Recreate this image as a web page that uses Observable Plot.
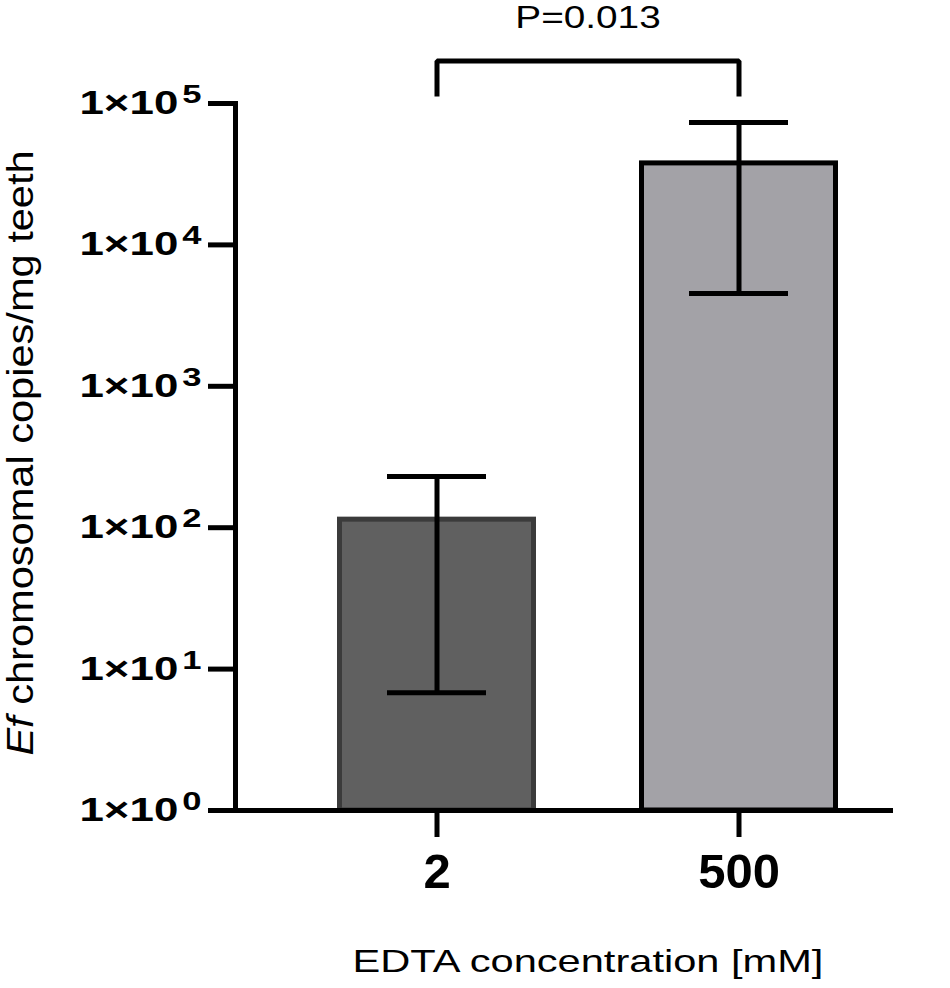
<!DOCTYPE html>
<html>
<head>
<meta charset="utf-8">
<script src="https://cdn.jsdelivr.net/npm/d3@7"></script>
<script src="https://cdn.jsdelivr.net/npm/@observablehq/plot@0.6"></script>
<style>
  body { margin: 0; background: #fff; }
  svg { font-family: "Liberation Sans", Arial, sans-serif; }
</style>
</head>
<body>
<div id="chart"></div>
<script>
// ---- data ----
const concentrations = ["2", "500"];
const means = [114, 37700];
const errLow = [6.8, 4530];
const errHigh = [230, 73400];
const barFills = ["#606060", "#a3a2a7"];
const barStrokes = ["#3b3b3b", "#000000"];
const yTicks = [1, 10, 100, 1000, 10000, 100000];
const pLabel = "P=0.013";
const bracketLegY = 1.12e5;
const bracketTopY = 2.0e5;
const pLabelY = 4.0e5;
const xTitle = "EDTA concentration [mM]";
const yTitleItalic = "Ef";
const yTitleRest = " chromosomal copies/mg teeth";

const data = concentrations.map((c, i) => ({
  conc: c, mean: means[i], lo: errLow[i], hi: errHigh[i], fill: barFills[i], stroke: barStrokes[i]
}));
const bracket = [
  {conc: concentrations[0], y: bracketLegY},
  {conc: concentrations[0], y: bracketTopY},
  {conc: concentrations[1], y: bracketTopY},
  {conc: concentrations[1], y: bracketLegY}
];

// ---- layout ----
const W = 950, H = 988, mL = 235, mR = 60, mT = 103, mB = 178;
const xRange = [285.5, 889.5], padIn = 0.34, padOut = 0.17;
const step = (xRange[1] - xRange[0]) / (concentrations.length - padIn + 2 * padOut);
const midDx = step / 2;

const plot = Plot.plot({
  width: W, height: H,
  marginLeft: mL, marginRight: mR, marginTop: mT, marginBottom: mB,
  style: {fontFamily: "'Liberation Sans', Arial, sans-serif", background: "#ffffff", color: "#000"},
  x: {type: "band", domain: concentrations, range: xRange, paddingInner: padIn, paddingOuter: padOut, label: null},
  y: {type: "log", domain: [1, 1e5], label: null},
  color: {type: "identity"},
  marks: [
    Plot.barY(data, {x: "conc", y1: 1, y2: "mean", fill: "fill", stroke: "stroke", strokeWidth: 5, insetLeft: 2.5, insetRight: 2.5}),
    Plot.ruleX(data, {x: "conc", y1: "lo", y2: "hi", stroke: "#000", strokeWidth: 5}),
    Plot.tickY(data, {x: "conc", y: "lo", stroke: "#000", strokeWidth: 5, insetLeft: 50, insetRight: 50}),
    Plot.tickY(data, {x: "conc", y: "hi", stroke: "#000", strokeWidth: 5, insetLeft: 50, insetRight: 50}),
    Plot.frame({anchor: "left", stroke: "#000", strokeWidth: 5}),
    Plot.frame({anchor: "bottom", stroke: "#000", strokeWidth: 5}),
    Plot.axisY({
      ticks: yTicks, tickSize: 27, tickPadding: 7, strokeWidth: 5, stroke: "#000",
      fontSize: 33, fontWeight: "bold", fill: "#000",
      tickFormat: d => "1×10^" + Math.round(Math.log10(d)), label: null
    }),
    Plot.axisX({
      tickSize: 27, tickPadding: 16, strokeWidth: 5, stroke: "#000",
      fontSize: 49, fontWeight: "bold", fill: "#000", label: null
    }),
    Plot.line(bracket, {x: "conc", y: "y", stroke: "#000", strokeWidth: 5, strokeLinejoin: "miter", strokeLinecap: "butt"}),
    Plot.text([pLabel], {x: () => concentrations[0], y: () => pLabelY, text: d => d, dx: midDx, fontSize: 31, fill: "#000"}),
    Plot.text([xTitle], {x: () => concentrations[0], frameAnchor: "bottom", text: d => d, dx: midDx, dy: 161, fontSize: 32, fill: "#000", textAnchor: "middle"}),
    Plot.text([yTitleItalic + yTitleRest], {frameAnchor: "left", rotate: -90, text: d => d, dx: -214, dy: -4, fontSize: 36, fill: "#000", textAnchor: "middle"})
  ]
});

document.getElementById("chart").appendChild(plot);

// ---- post-processing: superscripts, italics, horizontal stretch of text ----
function stretchWrap(el, sx, sy, origin) {
  const g = document.createElementNS("http://www.w3.org/2000/svg", "g");
  el.parentNode.insertBefore(g, el);
  g.appendChild(el);
  g.style.transformBox = "fill-box";
  g.style.transformOrigin = origin;
  g.style.transform = `scale(${sx},${sy})`;
}

const svg = d3.select(plot);
const allTexts = Array.from(plot.querySelectorAll("text"));

try {
  svg.selectAll('g[aria-label="y-axis tick label"] text').each(function () {
    const parts = (this.textContent || "").split("^");
    if (parts.length !== 2) return;
    const s = d3.select(this);
    s.text(parts[0]);
    s.append("tspan").attr("dx", 3).attr("dy", -11).attr("font-size", 26).text(parts[1]);
    stretchWrap(this, 1.33, 1, "right center");
  });
} catch (e) { console.error(e); }

try {
  for (const t of allTexts) {
    const c = t.textContent;
    if (c === yTitleItalic + yTitleRest) {
      const s = d3.select(t);
      s.text("");
      s.append("tspan").attr("font-style", "italic").text(yTitleItalic);
      s.append("tspan").text(yTitleRest);
      stretchWrap(t, 1, 1.155, "center");
    } else if (c === pLabel) {
      stretchWrap(t, 1.25, 1, "center");
    } else if (c === xTitle) {
      stretchWrap(t, 1.3, 1, "center");
    }
  }
} catch (e) { console.error(e); }
</script>
</body>
</html>
